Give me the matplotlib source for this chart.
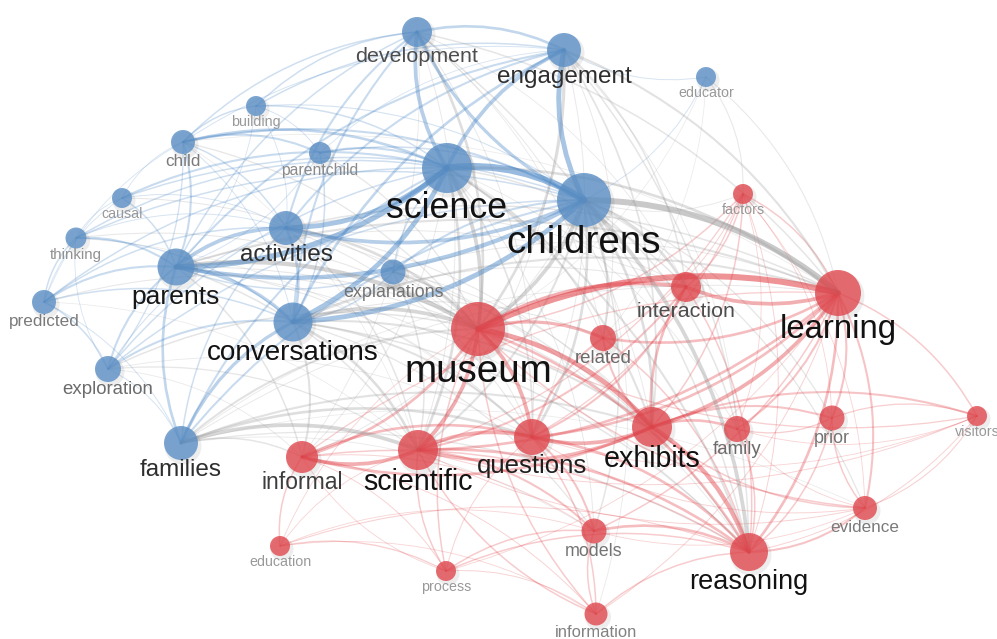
import matplotlib
matplotlib.use("Agg")
import matplotlib.pyplot as plt
from matplotlib.patches import Circle, FancyArrowPatch

# nodes: name, x, y (layout pixels), radius, group (0 = blue, 1 = red)
node_names = ["development", "engagement", "educator", "building", "child", "parentchild",
              "science", "childrens", "causal", "thinking", "activities", "parents",
              "explanations", "predicted", "conversations", "exploration", "families",
              "factors", "learning", "interaction", "museum", "related", "exhibits",
              "questions", "scientific", "informal", "family", "prior", "visitors",
              "evidence", "models", "reasoning", "education", "process", "information"]
node_x = [417, 564, 706, 256, 183, 320, 447, 584, 122, 76, 286, 176, 393, 44, 293, 108, 181,
          743, 838, 686, 478, 603, 652, 532, 418, 302, 737, 832, 977, 865, 594, 749, 280, 446, 596]
node_y = [32, 50, 77, 106, 142, 153, 168, 200, 198, 238, 228, 267, 272, 302, 322, 369, 443,
          194, 293, 287, 329, 338, 427, 437, 450, 457, 429, 418, 416, 508, 531, 552, 546, 571, 614]
node_r = [15, 17, 10, 10, 12, 11, 25, 27, 10, 10.5, 17, 18.5, 12.5, 12, 19.5, 13, 17,
          10, 23, 15, 27, 13, 20, 18, 20, 16, 13, 12.5, 10, 12, 12.5, 19, 10, 10, 11.5]
node_group = [0] * 17 + [1] * 18

edges = [
    # blue cluster
    ("science", "childrens", 6), ("science", "parents", 4.5), ("science", "activities", 4),
    ("science", "conversations", 4), ("childrens", "conversations", 4), ("childrens", "parents", 3.5),
    ("childrens", "activities", 3), ("childrens", "engagement", 4), ("science", "engagement", 3),
    ("science", "development", 3), ("childrens", "development", 2.5), ("development", "engagement", 2),
    ("families", "conversations", 2.5), ("families", "parents", 2), ("parents", "activities", 3),
    ("parents", "conversations", 2.5), ("activities", "conversations", 2), ("child", "science", 2),
    ("child", "parentchild", 1.5), ("child", "building", 1), ("child", "development", 1),
    ("child", "parents", 1.5), ("child", "activities", 1), ("child", "childrens", 1.5),
    ("predicted", "parents", 1.5), ("predicted", "thinking", 1), ("predicted", "exploration", 1),
    ("predicted", "conversations", 1), ("predicted", "activities", 1), ("predicted", "science", 1),
    ("exploration", "parents", 1.5), ("exploration", "conversations", 1.5), ("exploration", "science", 1),
    ("exploration", "childrens", 1), ("causal", "science", 1.5), ("causal", "parents", 1),
    ("causal", "childrens", 1), ("thinking", "parents", 1.5), ("thinking", "science", 1),
    ("thinking", "childrens", 1), ("parentchild", "science", 1.5), ("parentchild", "childrens", 1),
    ("parentchild", "conversations", 1), ("building", "development", 1), ("building", "science", 1),
    ("building", "engagement", 1), ("explanations", "childrens", 1.5), ("explanations", "science", 1),
    ("explanations", "parents", 1), ("explanations", "conversations", 1), ("activities", "engagement", 1.5),
    ("activities", "development", 1.5), ("conversations", "engagement", 2), ("conversations", "development", 1.5),
    ("parents", "engagement", 1.5), ("parents", "development", 1), ("families", "science", 1.5),
    ("families", "childrens", 1.5), ("families", "activities", 1), ("educator", "childrens", 0.5),
    ("educator", "engagement", 0.5), ("child", "exploration", 0.8), ("thinking", "conversations", 0.8),
    ("exploration", "families", 0.5), ("exploration", "activities", 0.6), ("exploration", "thinking", 0.4),
    ("predicted", "families", 0.5), ("predicted", "causal", 0.4), ("predicted", "child", 0.4),
    ("thinking", "causal", 0.4), ("thinking", "activities", 0.5), ("causal", "activities", 0.5),
    ("causal", "child", 0.4), ("building", "parentchild", 0.5), ("building", "childrens", 0.6),
    ("building", "activities", 0.4), ("building", "parents", 0.4), ("child", "engagement", 0.5),
    ("child", "conversations", 0.5), ("parentchild", "parents", 0.5), ("parentchild", "engagement", 0.4),
    # red cluster
    ("museum", "learning", 5), ("museum", "exhibits", 4), ("museum", "scientific", 3),
    ("museum", "questions", 3), ("museum", "interaction", 3), ("museum", "related", 2.5),
    ("museum", "informal", 2), ("museum", "reasoning", 2), ("learning", "interaction", 3),
    ("learning", "exhibits", 3), ("learning", "reasoning", 2), ("learning", "prior", 1.5),
    ("learning", "evidence", 1.5), ("learning", "family", 1.5), ("learning", "visitors", 1),
    ("learning", "related", 2), ("learning", "questions", 2), ("learning", "scientific", 2),
    ("learning", "models", 1), ("exhibits", "reasoning", 3.5), ("exhibits", "questions", 3),
    ("exhibits", "scientific", 2.5), ("exhibits", "informal", 2), ("exhibits", "family", 2),
    ("exhibits", "prior", 1.5), ("exhibits", "visitors", 1.5), ("exhibits", "interaction", 2),
    ("exhibits", "related", 1.5), ("scientific", "questions", 3), ("scientific", "reasoning", 2),
    ("scientific", "informal", 3), ("scientific", "models", 1.5), ("questions", "reasoning", 2),
    ("questions", "models", 1.5), ("questions", "information", 1), ("questions", "related", 1.5),
    ("models", "reasoning", 2), ("information", "reasoning", 1), ("information", "models", 1),
    ("information", "scientific", 1), ("information", "museum", 1), ("process", "models", 1),
    ("process", "reasoning", 1), ("process", "museum", 1), ("process", "scientific", 1),
    ("education", "informal", 1), ("education", "process", 0.8), ("education", "reasoning", 0.6),
    ("factors", "learning", 1), ("factors", "interaction", 1), ("factors", "museum", 1),
    ("factors", "exhibits", 1), ("factors", "questions", 0.8), ("factors", "scientific", 0.8),
    ("evidence", "reasoning", 1.5), ("evidence", "prior", 1), ("evidence", "exhibits", 1),
    ("evidence", "museum", 1), ("prior", "reasoning", 1), ("prior", "visitors", 0.8),
    ("prior", "family", 0.8), ("family", "reasoning", 1), ("interaction", "questions", 1.5),
    ("interaction", "scientific", 1.5), ("interaction", "reasoning", 1), ("related", "reasoning", 1),
    ("informal", "questions", 2), ("informal", "reasoning", 1), ("visitors", "museum", 0.8),
    ("visitors", "evidence", 0.6), ("factors", "reasoning", 0.5), ("factors", "family", 0.4),
    ("factors", "related", 0.5), ("factors", "prior", 0.4), ("factors", "evidence", 0.4),
    ("visitors", "reasoning", 0.5), ("visitors", "scientific", 0.5), ("visitors", "questions", 0.4),
    ("visitors", "family", 0.4), ("evidence", "scientific", 0.5), ("evidence", "questions", 0.5),
    ("evidence", "family", 0.4), ("evidence", "models", 0.4), ("learning", "information", 0.5),
    ("learning", "process", 0.4), ("informal", "information", 0.5), ("informal", "models", 0.5),
    ("informal", "process", 0.5), ("informal", "learning", 0.8), ("education", "scientific", 0.4),
    ("education", "museum", 0.4), ("education", "models", 0.4), ("education", "information", 0.4),
    ("process", "information", 0.5), ("process", "questions", 0.5), ("process", "informal", 0.4),
    # between clusters
    ("childrens", "learning", 5), ("parents", "museum", 3.5), ("conversations", "museum", 3),
    ("families", "scientific", 3), ("families", "questions", 2), ("childrens", "museum", 3),
    ("science", "museum", 3), ("childrens", "reasoning", 3), ("engagement", "museum", 2),
    ("development", "museum", 2), ("childrens", "exhibits", 2), ("science", "learning", 2),
    ("childrens", "questions", 2), ("conversations", "scientific", 2), ("engagement", "learning", 1.5),
    ("educator", "factors", 0.6), ("educator", "learning", 0.6), ("activities", "museum", 2),
    ("explanations", "museum", 1.5), ("science", "scientific", 2), ("science", "exhibits", 1.5),
    ("childrens", "interaction", 2), ("childrens", "related", 1.5), ("childrens", "scientific", 1.5),
    ("conversations", "questions", 1.5), ("conversations", "exhibits", 1.5), ("parents", "learning", 1.5),
    ("conversations", "learning", 1.5), ("conversations", "informal", 1.5), ("parents", "scientific", 1),
    ("parents", "informal", 1), ("families", "museum", 1.5), ("families", "informal", 1),
    ("families", "reasoning", 0.8), ("exploration", "museum", 1), ("exploration", "scientific", 0.8),
    ("predicted", "museum", 0.6), ("child", "museum", 0.8), ("development", "learning", 1),
    ("development", "reasoning", 1), ("engagement", "exhibits", 1.2), ("engagement", "reasoning", 1),
    ("science", "reasoning", 1.5), ("activities", "learning", 1), ("activities", "scientific", 1),
    ("science", "questions", 1.2), ("childrens", "models", 1), ("childrens", "family", 1),
    ("childrens", "prior", 0.8), ("science", "interaction", 1), ("engagement", "interaction", 1),
    ("childrens", "evidence", 0.8), ("conversations", "reasoning", 1), ("conversations", "models", 0.8),
    ("families", "exhibits", 1.5), ("explanations", "scientific", 1), ("explanations", "reasoning", 0.8),
    ("parentchild", "museum", 0.8), ("causal", "museum", 0.6), ("thinking", "museum", 0.6),
    ("development", "informal", 0.4), ("development", "scientific", 0.5), ("development", "questions", 0.5),
    ("development", "exhibits", 0.5), ("development", "related", 0.4), ("development", "interaction", 0.4),
    ("engagement", "scientific", 0.5), ("engagement", "questions", 0.5), ("engagement", "related", 0.5),
    ("engagement", "family", 0.4), ("educator", "museum", 0.3), ("educator", "related", 0.3),
    ("factors", "childrens", 0.5), ("exploration", "informal", 0.4), ("exploration", "questions", 0.4),
    ("families", "learning", 0.5), ("families", "interaction", 0.4), ("families", "models", 0.4),
    ("families", "evidence", 0.3), ("parents", "exhibits", 0.6), ("parents", "questions", 0.6),
    ("parents", "reasoning", 0.5), ("parents", "interaction", 0.5), ("activities", "exhibits", 0.6),
    ("activities", "questions", 0.6), ("activities", "reasoning", 0.5), ("activities", "interaction", 0.5),
    ("conversations", "interaction", 0.6), ("conversations", "related", 0.6), ("science", "related", 0.6),
    ("science", "models", 0.5), ("science", "informal", 0.5), ("science", "family", 0.4),
    ("childrens", "informal", 0.5), ("childrens", "information", 0.4), ("explanations", "questions", 0.5),
    ("explanations", "learning", 0.5), ("explanations", "exhibits", 0.5), ("child", "learning", 0.3),
    ("child", "scientific", 0.3), ("predicted", "scientific", 0.3), ("thinking", "questions", 0.3),
]

blue = "#5b8fc5"
red = "#e0484e"
edge_cols = {(0, 0): "#4382c4", (1, 1): "#e0333a", (0, 1): "#9a9a9a", (1, 0): "#9a9a9a"}

idx = {n: i for i, n in enumerate(node_names)}

fig = plt.figure(figsize=(9.97, 6.39), dpi=100)
ax = fig.add_axes([0, 0, 1, 1])
ax.set_xlim(0, 997)
ax.set_ylim(639, 0)
ax.axis("off")

for s, t, w in sorted(edges, key=lambda e: e[2]):
    a, b = idx[s], idx[t]
    col = edge_cols[(node_group[a], node_group[b])]
    alpha = min(0.18 + 0.07 * w, 0.55)
    p = FancyArrowPatch((node_x[a], node_y[a]), (node_x[b], node_y[b]),
                        arrowstyle="-", connectionstyle="arc3,rad=-0.18",
                        shrinkA=0, shrinkB=0, lw=0.3 + 0.8 * w, color=col,
                        alpha=alpha, zorder=1)
    ax.add_patch(p)

for i, n in enumerate(node_names):
    r = node_r[i]
    ax.add_patch(Circle((node_x[i] + 2, node_y[i] + 3), r + 1.5, color="#000000",
                        alpha=0.07, lw=0, zorder=2))
    ax.add_patch(Circle((node_x[i], node_y[i]), r, color=blue if node_group[i] == 0 else red,
                        alpha=0.8, lw=0, zorder=3))

for i, n in enumerate(node_names):
    r = node_r[i]
    fs = r * 1.03
    fpx = fs * 100 / 72
    g = max(0.07, min(0.6, 0.6 - (r - 10) * 0.06))
    ax.text(node_x[i], node_y[i] + r + 0.42 * fpx, n, ha="center", va="center",
            fontsize=fs, family="Liberation Sans", color=(g, g, g), zorder=4)

fig.savefig("out.png", dpi=100, facecolor="white")
